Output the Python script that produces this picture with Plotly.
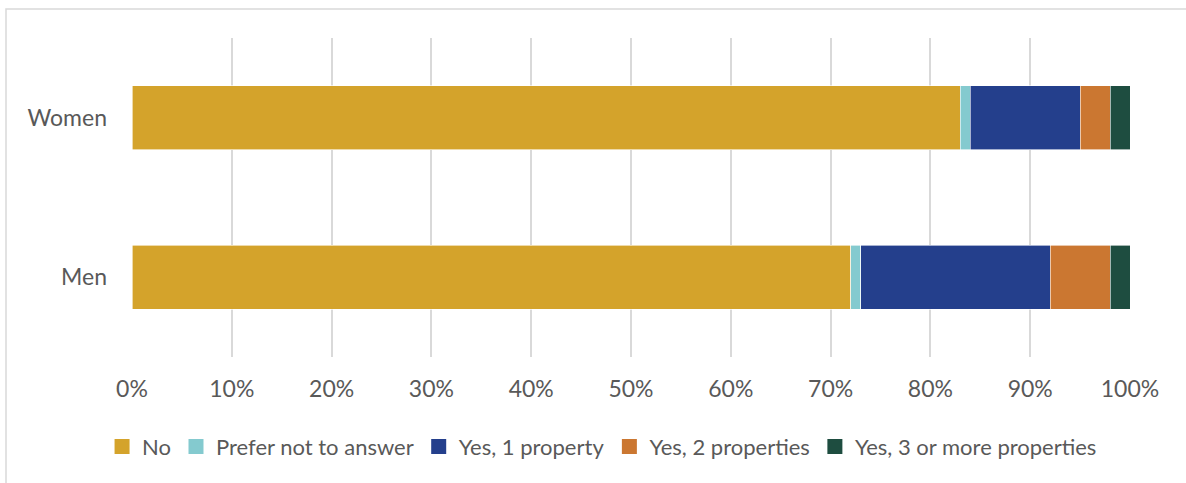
import plotly.graph_objects as go

# Property ownership by gender (percent of respondents)
groups = ["Men", "Women"]
series_names = ["No", "Prefer not to answer", "Yes, 1 property",
                "Yes, 2 properties", "Yes, 3 or more properties"]
no_vals = [72, 83]
prefer_vals = [1, 1]
yes1_vals = [19, 11]
yes2_vals = [6, 3]
yes3_vals = [2, 2]
colors = ["#D4A32B", "#84CACF", "#243F8C", "#CB7731", "#1E4D40"]
tick_vals = [0, 10, 20, 30, 40, 50, 60, 70, 80, 90, 100]
tick_text = [f"{v}%" for v in tick_vals]

values = [no_vals, prefer_vals, yes1_vals, yes2_vals, yes3_vals]

fig = go.Figure()
for name, vals, col in zip(series_names, values, colors):
    fig.add_trace(go.Bar(
        y=groups, x=vals, name=name, orientation="h",
        marker=dict(color=col, line=dict(width=0.6, color="white")),
        hoverinfo="x+y+name", showlegend=False, legendgroup=name,
    ))
    # legend entry drawn as a square swatch
    fig.add_trace(go.Scatter(
        x=[None], y=[None], mode="markers", name=name, legendgroup=name,
        marker=dict(symbol="square", size=15, color=col), showlegend=True,
    ))

W, H = 1186, 483
ml, mr, mt, mb = 132, 56, 38, 126
pw, ph = W - ml - mr, H - mt - mb

fig.update_layout(
    width=W, height=H,
    barmode="stack", bargap=0.6,
    margin=dict(l=ml, r=mr, t=mt, b=mb),
    paper_bgcolor="white", plot_bgcolor="white",
    font=dict(family="Lato, 'Open Sans', sans-serif", color="#595959", size=22),
    xaxis=dict(range=[0, 100], tickvals=tick_vals, ticktext=tick_text,
               showgrid=True, gridcolor="#D9D9D9", gridwidth=1.5,
               zeroline=False, showline=False, ticks="", ticklabelstandoff=16,
               tickfont=dict(size=23, color="#595959")),
    yaxis=dict(showgrid=False, zeroline=False, showline=False, ticks="",
               ticklabelstandoff=24, tickfont=dict(size=23, color="#595959")),
    legend=dict(orientation="h", x=0.471, xanchor="center", y=-0.215, yanchor="top",
                traceorder="normal", font=dict(size=22, color="#595959"),
                itemwidth=30, tracegroupgap=0),
    showlegend=True,
)

# Light frame around the chart area
fig.add_shape(type="rect", xref="paper", yref="paper",
              x0=(6 - ml) / pw, x1=(W + 10 - ml) / pw,
              y0=-(mb + 10) / ph, y1=1 + (mt - 9) / ph,
              line=dict(color="#D9D9D9", width=1.5), fillcolor="rgba(0,0,0,0)",
              layer="below")

fig.write_html("out.html")
